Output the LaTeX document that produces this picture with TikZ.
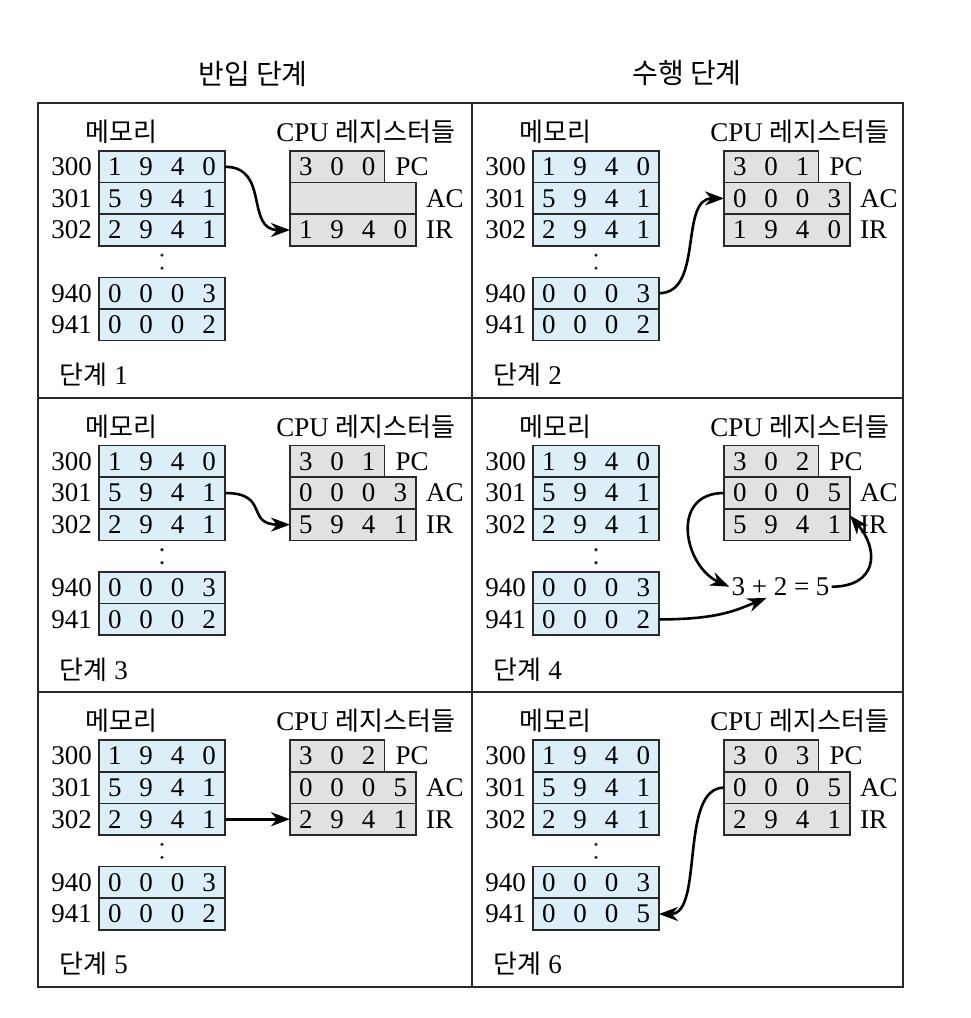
\documentclass[tikz,border=0pt]{standalone}
\usepackage{fontspec}
\setmainfont{Liberation Serif}
\newfontfamily\kr{Noto Sans CJK KR}
\usetikzlibrary{positioning,arrows.meta}

\definecolor{memblue}{RGB}{220,238,248}
\definecolor{reggray}{RGB}{225,225,225}
\definecolor{linec}{RGB}{40,40,40}

\newcommand{\dfont}{\fontsize{27}{32}\selectfont}
\newcommand{\kfont}{\fontsize{26}{31}\selectfont\kr}
\newcommand{\digs}[1]{\foreach \d in {#1}{\makebox[31.5pt]{\d}}}

\tikzset{
  mem/.style={draw=linec, fill=memblue, line width=1.6pt, minimum width=126pt,
    minimum height=31.6pt, inner sep=0pt, outer sep=0pt, font=\dfont},
  reg/.style={mem, fill=reggray},
  pcreg/.style={reg, minimum width=94.5pt},
  lbl/.style={inner sep=0pt, font=\dfont},
  flow/.style={line width=2.6pt, -{Stealth[length=19pt,width=14pt,inset=6pt]}},
}

% one step: x, y, prefix, step, PC, AC, IR, word 941
\newcommand{\stage}[8]{%
\begin{scope}[shift={(#1,#2)}]
  \node[lbl] (#3mtitle) at (84,29) {\kfont 메모리};
  \node[lbl] (#3rtitle) at (328,29) {CPU {\kfont 레지스터들}};

  \node[mem, anchor=north west] (#3m300) at (61.3,48) {\digs{1,9,4,0}};
  \node[mem, below=0pt of #3m300] (#3m301) {\digs{5,9,4,1}};
  \node[mem, below=0pt of #3m301] (#3m302) {\digs{2,9,4,1}};
  \node[mem, draw=none, fill=none, below=0pt of #3m302] (#3gap) {};
  \node[mem, below=0pt of #3gap] (#3m940) {\digs{0,0,0,3}};
  \node[mem, below=0pt of #3m940] (#3m941) {\digs{#8}};
  \fill[linec] ([yshift=6.5pt]#3gap.center) circle (1.8pt)
    ([yshift=-6.5pt]#3gap.center) circle (1.8pt);

  \node[lbl, left=7pt of #3m300] (#3a300) {300};
  \node[lbl, left=7pt of #3m301] (#3a301) {301};
  \node[lbl, left=7pt of #3m302] (#3a302) {302};
  \node[lbl, left=7pt of #3m940] (#3a940) {940};
  \node[lbl, left=7pt of #3m941] (#3a941) {941};

  \node[pcreg, anchor=north west] (#3pc) at (252.3,48) {\digs{#5}};
  \node[reg, anchor=north west] (#3ac) at (#3pc.south west) {\digs{#6}};
  \node[reg, anchor=north west] (#3ir) at (#3ac.south west) {\digs{#7}};
  \node[lbl, right=11pt of #3pc] (#3lpc) {PC};
  \node[lbl, right=10pt of #3ac] (#3lac) {AC};
  \node[lbl, right=10pt of #3ir] (#3lir) {IR};

  \node[lbl, anchor=west] (#3step) at (22,272) {{\kfont 단계} #4};
\end{scope}}

\begin{document}
\begin{tikzpicture}[x=1pt,y=-1pt]
  \useasboundingbox (0,0) rectangle (970,1018);

  \node[lbl, font=\fontsize{28}{34}\selectfont\kr] (fetch) at (253,74) {반입 단계};
  \node[lbl, font=\fontsize{28}{34}\selectfont\kr] (exec) at (687,73) {수행 단계};

  \draw[linec, line width=2pt] (37.7,103) rectangle (903.3,986.7);
  \draw[linec, line width=2pt] (471.7,103) -- (471.7,986.7);
  \draw[linec, line width=2pt] (37.7,397.6) -- (903.3,397.6);
  \draw[linec, line width=2pt] (37.7,692.2) -- (903.3,692.2);

  \stage{37.7}{103}{s1-}{1}{3,0,0}{}{1,9,4,0}{0,0,0,2}
  \stage{471.7}{103}{s2-}{2}{3,0,1}{0,0,0,3}{1,9,4,0}{0,0,0,2}
  \stage{37.7}{397.6}{s3-}{3}{3,0,1}{0,0,0,3}{5,9,4,1}{0,0,0,2}
  \stage{471.7}{397.6}{s4-}{4}{3,0,2}{0,0,0,5}{5,9,4,1}{0,0,0,2}
  \stage{37.7}{692.2}{s5-}{5}{3,0,2}{0,0,0,5}{2,9,4,1}{0,0,0,2}
  \stage{471.7}{692.2}{s6-}{6}{3,0,3}{0,0,0,5}{2,9,4,1}{0,0,0,5}

  \node[lbl, inner sep=2pt] (s4-sum) at (780.5,586.7) {3 + 2 = 5};

  \draw[flow] (s1-m300.east) .. controls +(45,0) and +(-45,0) .. (s1-ir.west);
  \draw[flow] (s2-m940.east) .. controls +(45,0) and +(-45,0) .. (s2-ac.west);
  \draw[flow] (s3-m301.east) .. controls +(45,0) and +(-45,0) .. (s3-ir.west);
  \draw[flow] (s4-ac.west) .. controls +(-55,0) and +(-45,-20) .. (s4-sum.west);
  \draw[flow] (s4-sum.east) .. controls +(45,0) and +(30,35) .. ([yshift=9pt]s4-ir.east);
  \draw[flow] (s4-m941.east) .. controls +(60,0) and +(-30,12) .. ([xshift=-14pt]s4-sum.south);
  \draw[flow] (s5-m302.east) -- (s5-ir.west);
  \draw[flow] (s6-ac.west) .. controls +(-45,0) and +(45,0) .. (s6-m941.east);
\end{tikzpicture}
\end{document}
